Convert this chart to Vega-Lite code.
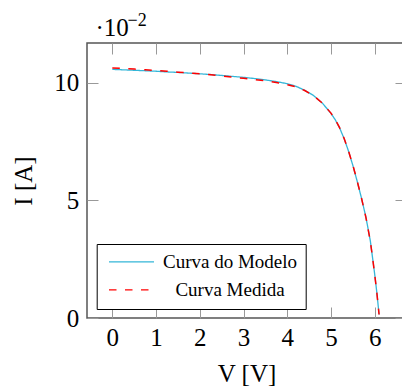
{
  "$schema": "https://vega.github.io/schema/vega-lite/v6.json",
  "width": 319,
  "height": 275,
  "autosize": {"type": "none"},
  "padding": {"left": 87, "top": 43, "right": -4, "bottom": 71},
  "background": "white",
  "config": {
    "view": {"stroke": "#555555", "strokeWidth": 1.5},
    "font": "Liberation Serif",
    "axis": {
      "grid": false,
      "domain": false,
      "tickColor": "#999999",
      "tickWidth": 1,
      "tickSize": -11,
      "labelFont": "Liberation Serif",
      "labelFontSize": 25,
      "labelColor": "black",
      "titleFont": "Liberation Serif",
      "titleFontSize": 25,
      "titleFontWeight": "normal",
      "titleColor": "black"
    },
    "legend": {
      "orient": "none",
      "legendX": 9.7,
      "legendY": 201,
      "padding": 8.3,
      "strokeColor": "black",
      "fillColor": "white",
      "cornerRadius": 0,
      "strokeWidth": 1,
      "symbolType": "M-1.222,0H8.778",
      "symbolSize": 81,
      "symbolStrokeWidth": 1.3,
      "labelFont": "Liberation Serif",
      "labelFontSize": 19,
      "labelColor": "black",
      "labelAlign": "center",
      "labelOffset": 106,
      "rowPadding": 8,
      "labelLimit": 300
    }
  },
  "datasets": {
    "modelo": [
      {"V": 0, "I": 0.1057, "serie": "Curva do Modelo"},
      {"V": 0.25, "I": 0.1055, "serie": "Curva do Modelo"},
      {"V": 0.5, "I": 0.1053, "serie": "Curva do Modelo"},
      {"V": 0.75, "I": 0.1051, "serie": "Curva do Modelo"},
      {"V": 1.0, "I": 0.1049, "serie": "Curva do Modelo"},
      {"V": 1.25, "I": 0.1046, "serie": "Curva do Modelo"},
      {"V": 1.5, "I": 0.1044, "serie": "Curva do Modelo"},
      {"V": 1.75, "I": 0.1041, "serie": "Curva do Modelo"},
      {"V": 2.0, "I": 0.1038, "serie": "Curva do Modelo"},
      {"V": 2.25, "I": 0.1035, "serie": "Curva do Modelo"},
      {"V": 2.5, "I": 0.1031, "serie": "Curva do Modelo"},
      {"V": 2.75, "I": 0.1027, "serie": "Curva do Modelo"},
      {"V": 3.0, "I": 0.1023, "serie": "Curva do Modelo"},
      {"V": 3.25, "I": 0.1018, "serie": "Curva do Modelo"},
      {"V": 3.5, "I": 0.1012, "serie": "Curva do Modelo"},
      {"V": 3.75, "I": 0.1005, "serie": "Curva do Modelo"},
      {"V": 4.0, "I": 0.0996, "serie": "Curva do Modelo"},
      {"V": 4.2, "I": 0.0985, "serie": "Curva do Modelo"},
      {"V": 4.4, "I": 0.0968, "serie": "Curva do Modelo"},
      {"V": 4.6, "I": 0.0946, "serie": "Curva do Modelo"},
      {"V": 4.8, "I": 0.0914, "serie": "Curva do Modelo"},
      {"V": 5.0, "I": 0.0870, "serie": "Curva do Modelo"},
      {"V": 5.1, "I": 0.0842, "serie": "Curva do Modelo"},
      {"V": 5.2, "I": 0.0807, "serie": "Curva do Modelo"},
      {"V": 5.3, "I": 0.0763, "serie": "Curva do Modelo"},
      {"V": 5.4, "I": 0.0710, "serie": "Curva do Modelo"},
      {"V": 5.5, "I": 0.0649, "serie": "Curva do Modelo"},
      {"V": 5.6, "I": 0.0581, "serie": "Curva do Modelo"},
      {"V": 5.7, "I": 0.0508, "serie": "Curva do Modelo"},
      {"V": 5.8, "I": 0.0428, "serie": "Curva do Modelo"},
      {"V": 5.9, "I": 0.0328, "serie": "Curva do Modelo"},
      {"V": 5.95, "I": 0.0258, "serie": "Curva do Modelo"},
      {"V": 6.0, "I": 0.0186, "serie": "Curva do Modelo"},
      {"V": 6.05, "I": 0.0107, "serie": "Curva do Modelo"},
      {"V": 6.1, "I": 0.0015, "serie": "Curva do Modelo"}
    ],
    "medida": [
      {"V": 0, "I": 0.1063, "serie": "Curva Medida"},
      {"V": 0.25, "I": 0.1061, "serie": "Curva Medida"},
      {"V": 0.5, "I": 0.1058, "serie": "Curva Medida"},
      {"V": 0.75, "I": 0.1055, "serie": "Curva Medida"},
      {"V": 1.0, "I": 0.1052, "serie": "Curva Medida"},
      {"V": 1.25, "I": 0.1049, "serie": "Curva Medida"},
      {"V": 1.5, "I": 0.1045, "serie": "Curva Medida"},
      {"V": 1.75, "I": 0.1042, "serie": "Curva Medida"},
      {"V": 2.0, "I": 0.1038, "serie": "Curva Medida"},
      {"V": 2.25, "I": 0.1034, "serie": "Curva Medida"},
      {"V": 2.5, "I": 0.1029, "serie": "Curva Medida"},
      {"V": 2.75, "I": 0.1024, "serie": "Curva Medida"},
      {"V": 3.0, "I": 0.1019, "serie": "Curva Medida"},
      {"V": 3.25, "I": 0.1014, "serie": "Curva Medida"},
      {"V": 3.5, "I": 0.1008, "serie": "Curva Medida"},
      {"V": 3.75, "I": 0.1001, "serie": "Curva Medida"},
      {"V": 4.0, "I": 0.0992, "serie": "Curva Medida"},
      {"V": 4.2, "I": 0.0983, "serie": "Curva Medida"},
      {"V": 4.4, "I": 0.0967, "serie": "Curva Medida"},
      {"V": 4.6, "I": 0.0945, "serie": "Curva Medida"},
      {"V": 4.8, "I": 0.0914, "serie": "Curva Medida"},
      {"V": 5.0, "I": 0.0871, "serie": "Curva Medida"},
      {"V": 5.1, "I": 0.0843, "serie": "Curva Medida"},
      {"V": 5.2, "I": 0.0808, "serie": "Curva Medida"},
      {"V": 5.3, "I": 0.0764, "serie": "Curva Medida"},
      {"V": 5.4, "I": 0.0711, "serie": "Curva Medida"},
      {"V": 5.5, "I": 0.0650, "serie": "Curva Medida"},
      {"V": 5.6, "I": 0.0582, "serie": "Curva Medida"},
      {"V": 5.7, "I": 0.0508, "serie": "Curva Medida"},
      {"V": 5.8, "I": 0.0427, "serie": "Curva Medida"},
      {"V": 5.9, "I": 0.0327, "serie": "Curva Medida"},
      {"V": 5.95, "I": 0.0258, "serie": "Curva Medida"},
      {"V": 6.0, "I": 0.0186, "serie": "Curva Medida"},
      {"V": 6.05, "I": 0.0106, "serie": "Curva Medida"},
      {"V": 6.1, "I": 0.0015, "serie": "Curva Medida"}
    ]
  },
  "layer": [
    {
      "data": {"name": "modelo"},
      "mark": {"type": "line", "strokeWidth": 1.3},
      "encoding": {
        "x": {
          "field": "V", "type": "quantitative",
          "scale": {"domain": [-0.579, 6.716], "nice": false, "zero": false},
          "axis": {"orient": "bottom", "values": [0, 1, 2, 3, 4, 5, 6], "labelPadding": 38, "labelBaseline": "alphabetic", "title": "V [V]", "titleY": 63, "titleBaseline": "alphabetic"}
        },
        "y": {
          "field": "I", "type": "quantitative",
          "scale": {"domain": [0, 0.1169], "nice": false},
          "axis": {"orient": "left", "values": [0, 0.05, 0.1], "labelExpr": "format(datum.value*100, '.0f')", "labelPadding": 19.3, "title": "I [A]", "titleX": -55.3, "titleY": 137.5, "titleBaseline": "alphabetic", "titleAngle": 270}
        },
        "color": {
          "field": "serie", "type": "nominal",
          "scale": {"domain": ["Curva do Modelo", "Curva Medida"], "range": ["#35b6d8", "#ff0000"]},
          "legend": {"title": null}
        },
        "strokeDash": {
          "field": "serie", "type": "nominal",
          "scale": {"domain": ["Curva do Modelo", "Curva Medida"], "range": [[1, 0], [7.5, 8.5]]},
          "legend": {"title": null}
        }
      }
    },
    {
      "data": {"name": "medida"},
      "mark": {"type": "line", "strokeWidth": 1.5},
      "encoding": {
        "x": {
          "field": "V", "type": "quantitative",
          "axis": {"orient": "top", "values": [0, 1, 2, 3, 4, 5, 6], "labels": false, "title": "·10", "titleX": 8, "titleY": -8, "titleAlign": "left", "titleBaseline": "alphabetic", "titleAngle": 0}
        },
        "y": {
          "field": "I", "type": "quantitative",
          "axis": {"orient": "right", "values": [0, 0.05, 0.1], "labels": false, "title": "−2", "titleX": -279, "titleY": -18, "titleAngle": 0, "titleAlign": "left", "titleBaseline": "alphabetic", "titleFontSize": 18}
        },
        "color": {"field": "serie", "type": "nominal", "legend": {"title": null}},
        "strokeDash": {"field": "serie", "type": "nominal", "legend": {"title": null}}
      }
    }
  ],
  "resolve": {"axis": {"x": "independent", "y": "independent"}}
}
